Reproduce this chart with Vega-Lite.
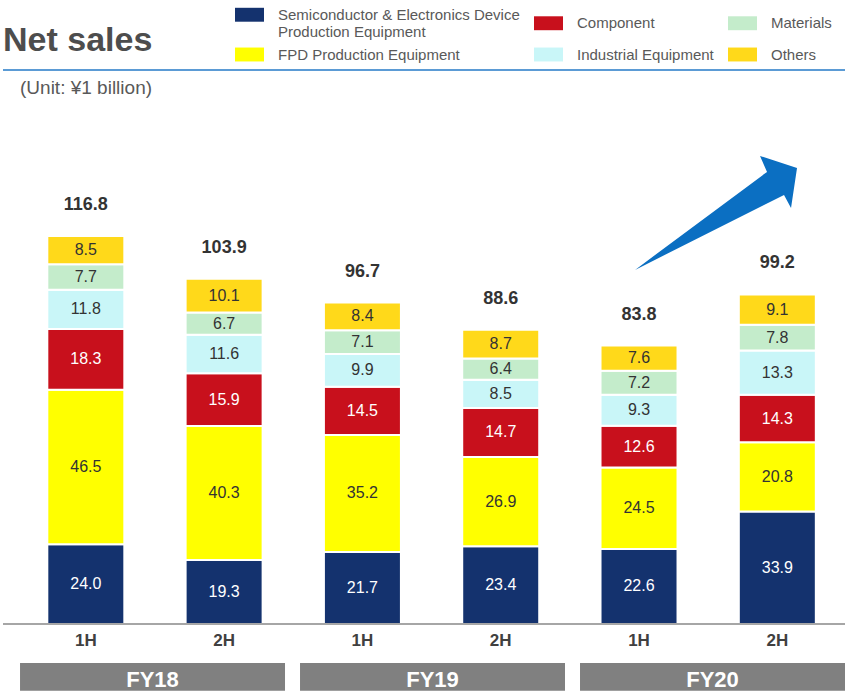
{
  "$schema": "https://vega.github.io/schema/vega-lite/v6.json",
  "width": 842,
  "height": 694,
  "autosize": {"type": "none"},
  "padding": {"left": 3, "top": 0, "right": 0, "bottom": 0},
  "background": "white",
  "config": {"view": {"stroke": null}, "font": "Liberation Sans"},
  "title": {"text": "Net sales", "anchor": "start", "frame": "group", "orient": "top", "offset": -85, "baseline": "alphabetic", "fontSize": 34, "fontWeight": "bold", "color": "#4d4d4d", "font": "Liberation Sans"},
  "datasets": {
    "sales": [
      {"period": "FY18 1H", "segment": "Semiconductor & Electronics Device Production Equipment", "seq": 1, "value": 24.0},
      {"period": "FY18 1H", "segment": "FPD Production Equipment", "seq": 2, "value": 46.5},
      {"period": "FY18 1H", "segment": "Component", "seq": 3, "value": 18.3},
      {"period": "FY18 1H", "segment": "Industrial Equipment", "seq": 4, "value": 11.8},
      {"period": "FY18 1H", "segment": "Materials", "seq": 5, "value": 7.7},
      {"period": "FY18 1H", "segment": "Others", "seq": 6, "value": 8.5},
      {"period": "FY18 2H", "segment": "Semiconductor & Electronics Device Production Equipment", "seq": 1, "value": 19.3},
      {"period": "FY18 2H", "segment": "FPD Production Equipment", "seq": 2, "value": 40.3},
      {"period": "FY18 2H", "segment": "Component", "seq": 3, "value": 15.9},
      {"period": "FY18 2H", "segment": "Industrial Equipment", "seq": 4, "value": 11.6},
      {"period": "FY18 2H", "segment": "Materials", "seq": 5, "value": 6.7},
      {"period": "FY18 2H", "segment": "Others", "seq": 6, "value": 10.1},
      {"period": "FY19 1H", "segment": "Semiconductor & Electronics Device Production Equipment", "seq": 1, "value": 21.7},
      {"period": "FY19 1H", "segment": "FPD Production Equipment", "seq": 2, "value": 35.2},
      {"period": "FY19 1H", "segment": "Component", "seq": 3, "value": 14.5},
      {"period": "FY19 1H", "segment": "Industrial Equipment", "seq": 4, "value": 9.9},
      {"period": "FY19 1H", "segment": "Materials", "seq": 5, "value": 7.1},
      {"period": "FY19 1H", "segment": "Others", "seq": 6, "value": 8.4},
      {"period": "FY19 2H", "segment": "Semiconductor & Electronics Device Production Equipment", "seq": 1, "value": 23.4},
      {"period": "FY19 2H", "segment": "FPD Production Equipment", "seq": 2, "value": 26.9},
      {"period": "FY19 2H", "segment": "Component", "seq": 3, "value": 14.7},
      {"period": "FY19 2H", "segment": "Industrial Equipment", "seq": 4, "value": 8.5},
      {"period": "FY19 2H", "segment": "Materials", "seq": 5, "value": 6.4},
      {"period": "FY19 2H", "segment": "Others", "seq": 6, "value": 8.7},
      {"period": "FY20 1H", "segment": "Semiconductor & Electronics Device Production Equipment", "seq": 1, "value": 22.6},
      {"period": "FY20 1H", "segment": "FPD Production Equipment", "seq": 2, "value": 24.5},
      {"period": "FY20 1H", "segment": "Component", "seq": 3, "value": 12.6},
      {"period": "FY20 1H", "segment": "Industrial Equipment", "seq": 4, "value": 9.3},
      {"period": "FY20 1H", "segment": "Materials", "seq": 5, "value": 7.2},
      {"period": "FY20 1H", "segment": "Others", "seq": 6, "value": 7.6},
      {"period": "FY20 2H", "segment": "Semiconductor & Electronics Device Production Equipment", "seq": 1, "value": 33.9},
      {"period": "FY20 2H", "segment": "FPD Production Equipment", "seq": 2, "value": 20.8},
      {"period": "FY20 2H", "segment": "Component", "seq": 3, "value": 14.3},
      {"period": "FY20 2H", "segment": "Industrial Equipment", "seq": 4, "value": 13.3},
      {"period": "FY20 2H", "segment": "Materials", "seq": 5, "value": 7.8},
      {"period": "FY20 2H", "segment": "Others", "seq": 6, "value": 9.1}
    ],
    "totals": [
      {"period": "FY18 1H", "half": "1H", "total": 116.8},
      {"period": "FY18 2H", "half": "2H", "total": 103.9},
      {"period": "FY19 1H", "half": "1H", "total": 96.7},
      {"period": "FY19 2H", "half": "2H", "total": 88.6},
      {"period": "FY20 1H", "half": "1H", "total": 83.8},
      {"period": "FY20 2H", "half": "2H", "total": 99.2}
    ],
    "fy": [
      {"fy": "FY18"},
      {"fy": "FY19"},
      {"fy": "FY20"}
    ]
  },
  "layer": [
    {
      "layer": [
        {
          "data": {"name": "sales"},
          "mark": {"type": "bar", "stroke": "white", "strokeWidth": 2},
          "encoding": {
            "x": {"field": "period", "type": "nominal", "sort": null,
                  "scale": {"domain": ["FY18 1H", "FY18 2H", "FY19 1H", "FY19 2H", "FY20 1H", "FY20 2H"], "paddingInner": 0.4432, "paddingOuter": 0.2657, "align": 0.603},
                  "axis": null},
            "y": {"field": "value", "type": "quantitative", "stack": "zero",
                  "scale": {"domain": [-21.07, 187.84], "nice": false, "zero": false}, "axis": null},
            "color": {"field": "segment", "type": "nominal",
                      "scale": {"domain": ["Semiconductor & Electronics Device Production Equipment", "FPD Production Equipment", "Component", "Industrial Equipment", "Materials", "Others"],
                                "range": ["#14326e", "#ffff00", "#c8101c", "#c9f6f8", "#c4eccb", "#ffd91a"]},
                      "legend": {"orient": "none", "legendX": 232, "legendY": 0, "columns": 3, "title": null,
                                 "symbolType": "M-1,-0.48H1V0.48H-1Z", "symbolSize": 841, "symbolStrokeWidth": 0,
                                 "labelFontSize": 15, "labelColor": "#595959", "labelFont": "Liberation Sans", "labelLimit": 400,
                                 "labelOffset": 14, "columnPadding": 14, "rowPadding": 0,
                                 "labelExpr": "datum.label == 'Semiconductor & Electronics Device Production Equipment' ? ['Semiconductor & Electronics Device', 'Production Equipment'] : datum.label"}},
            "order": {"field": "seq", "type": "quantitative"}
          }
        },
        {
          "data": {"name": "sales"},
          "mark": {"type": "text", "fontSize": 16, "baseline": "middle", "font": "Liberation Sans"},
          "encoding": {
            "x": {"field": "period", "type": "nominal"},
            "y": {"field": "value", "type": "quantitative", "stack": "zero", "bandPosition": 0.5},
            "detail": {"field": "segment"},
            "order": {"field": "seq", "type": "quantitative"},
            "text": {"field": "value", "type": "quantitative", "format": ".1f"},
            "color": {"condition": {"test": "datum.seq == 1 || datum.seq == 3", "value": "#ffffff"}, "value": "#333333"}
          }
        },
        {
          "data": {"name": "totals"},
          "mark": {"type": "text", "fontSize": 18, "fontWeight": "bold", "baseline": "middle", "dy": -31, "color": "#333333", "font": "Liberation Sans"},
          "encoding": {
            "x": {"field": "period", "type": "nominal"},
            "y": {"field": "total", "type": "quantitative"},
            "text": {"field": "total", "type": "quantitative", "format": ".1f"}
          }
        },
        {
          "data": {"name": "totals"},
          "mark": {"type": "text", "fontSize": 17, "fontWeight": "bold", "baseline": "middle", "color": "#404040", "font": "Liberation Sans"},
          "encoding": {
            "x": {"field": "period", "type": "nominal"},
            "y": {"datum": -5.1},
            "text": {"field": "half"}
          }
        },
        {
          "data": {"values": [{"period": "FY20 1H"}]},
          "mark": {"type": "point", "shape": "M-0.04,0.02L1.28,-0.96L1.21,-1.12L1.58,-1.0L1.52,-0.6L1.45,-0.73Z", "size": 40000, "filled": true, "opacity": 1, "color": "#0b6fc2", "strokeWidth": 0},
          "encoding": {
            "x": {"field": "period", "type": "nominal"},
            "y": {"datum": 107.2}
          }
        },
        {
          "data": {"values": [{}]},
          "mark": {"type": "rule", "color": "#a6a6a6", "strokeWidth": 2},
          "encoding": {"y": {"datum": 0}}
        },
        {
          "data": {"values": [{}]},
          "mark": {"type": "rule", "color": "#5b9bd5", "strokeWidth": 2},
          "encoding": {"y": {"datum": 166.8}}
        }
      ]
    },
    {
      "layer": [
        {
          "data": {"name": "fy"},
          "mark": {"type": "bar", "color": "#808080"},
          "encoding": {
            "x": {"field": "fy", "type": "nominal", "sort": null,
                  "scale": {"domain": ["FY18", "FY19", "FY20"], "paddingInner": 0.0536, "paddingOuter": 0.0304, "align": 1},
                  "axis": null},
            "y": {"datum": -11.74},
            "y2": {"datum": -20.08}
          }
        },
        {
          "data": {"name": "fy"},
          "mark": {"type": "text", "fontSize": 22, "fontWeight": "bold", "color": "#ffffff", "baseline": "middle", "font": "Liberation Sans"},
          "encoding": {
            "x": {"field": "fy", "type": "nominal"},
            "y": {"datum": -16.86},
            "text": {"field": "fy"}
          }
        },
        {
          "data": {"values": [{"fy": "FY18", "note": "(Unit: ¥1 billion)"}]},
          "mark": {"type": "text", "fontSize": 19, "align": "left", "baseline": "middle", "color": "#595959", "font": "Liberation Sans"},
          "encoding": {
            "x": {"field": "fy", "type": "nominal", "bandPosition": 0},
            "y": {"datum": 161.4},
            "text": {"field": "note"}
          }
        }
      ]
    }
  ],
  "resolve": {"scale": {"x": "independent"}}
}
